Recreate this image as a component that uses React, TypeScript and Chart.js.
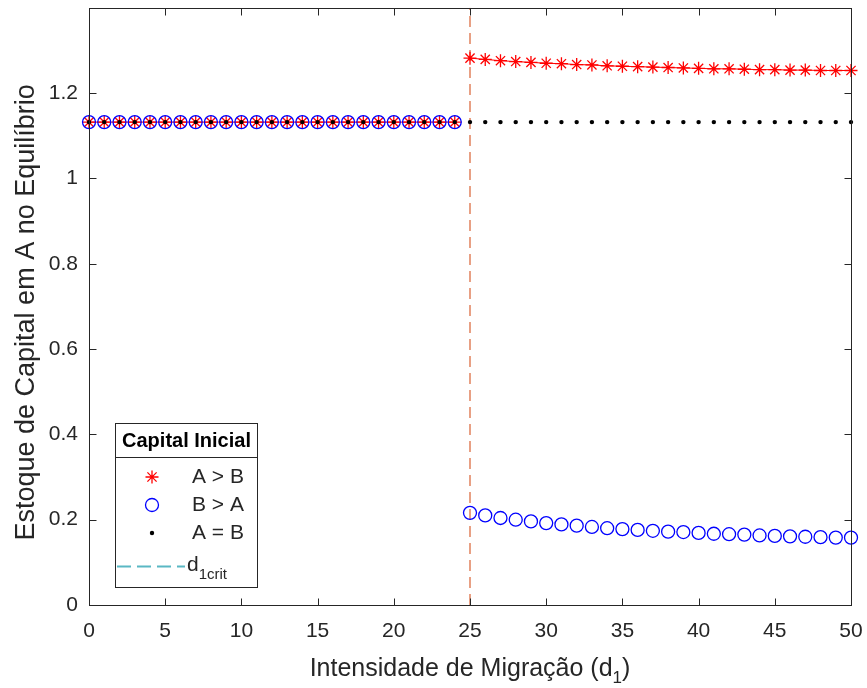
import React, { useEffect, useRef } from 'react';
import { Chart, registerables } from 'chart.js';

Chart.register(...registerables);

// ---------- data ----------
const d1 = [
  0, 1, 2, 3, 4, 5, 6, 7, 8, 9, 10, 11, 12, 13, 14, 15, 16, 17, 18, 19, 20, 21, 22, 23, 24,
  25, 26, 27, 28, 29, 30, 31, 32, 33, 34, 35, 36, 37, 38, 39, 40, 41, 42, 43, 44, 45, 46, 47, 48, 49, 50,
];

// Capital Inicial: A > B
const capitalAmaiorB = [
  1.132, 1.132, 1.132, 1.132, 1.132, 1.132, 1.132, 1.132, 1.132, 1.132, 1.132, 1.132, 1.132,
  1.132, 1.132, 1.132, 1.132, 1.132, 1.132, 1.132, 1.132, 1.132, 1.132, 1.132, 1.132,
  1.282, 1.279, 1.276, 1.274, 1.272, 1.270, 1.269, 1.267, 1.266, 1.264, 1.263, 1.262, 1.261,
  1.260, 1.259, 1.258, 1.257, 1.257, 1.256, 1.255, 1.255, 1.254, 1.254, 1.253, 1.253, 1.253,
];

// Capital Inicial: B > A
const capitalBmaiorA = [
  1.132, 1.132, 1.132, 1.132, 1.132, 1.132, 1.132, 1.132, 1.132, 1.132, 1.132, 1.132, 1.132,
  1.132, 1.132, 1.132, 1.132, 1.132, 1.132, 1.132, 1.132, 1.132, 1.132, 1.132, 1.132,
  0.216, 0.210, 0.204, 0.200, 0.196, 0.192, 0.189, 0.186, 0.183, 0.180, 0.178, 0.176, 0.174,
  0.172, 0.171, 0.169, 0.167, 0.166, 0.165, 0.163, 0.162, 0.161, 0.160, 0.159, 0.158, 0.158,
];

// Capital Inicial: A = B
const capitalAigualB = [
  1.132, 1.132, 1.132, 1.132, 1.132, 1.132, 1.132, 1.132, 1.132, 1.132, 1.132, 1.132, 1.132,
  1.132, 1.132, 1.132, 1.132, 1.132, 1.132, 1.132, 1.132, 1.132, 1.132, 1.132, 1.132,
  1.132, 1.132, 1.132, 1.132, 1.132, 1.132, 1.132, 1.132, 1.132, 1.132, 1.132, 1.132, 1.132,
  1.132, 1.132, 1.132, 1.132, 1.132, 1.132, 1.132, 1.132, 1.132, 1.132, 1.132, 1.132, 1.132,
];

const d1Crit = 25;

const xTicks = [0, 5, 10, 15, 20, 25, 30, 35, 40, 45, 50];
const xTickLabels = ['0', '5', '10', '15', '20', '25', '30', '35', '40', '45', '50'];
const yTicks = [0, 0.2, 0.4, 0.6, 0.8, 1, 1.2];
const yTickLabels = ['0', '0.2', '0.4', '0.6', '0.8', '1', '1.2'];
const xMin = 0;
const xMax = 50;
const yMin = 0;
const yMax = 1.4;

const xTitleMain = 'Intensidade de Migração (d';
const xTitleSub = '1';
const xTitleEnd = ')';
const yTitle = 'Estoque de Capital em A no Equilíbrio';
const legendTitle = 'Capital Inicial';
const seriesLabels = ['A > B', 'B > A', 'A = B'];
const critLabelMain = 'd';
const critLabelSub = '1crit';

// ---------- styles ----------
const FONT = "'Liberation Sans', Arial, Helvetica, sans-serif";
const AXIS_COLOR = '#262626';
const RED = '#FF0000';
const BLUE = '#0000FF';
const BLACK = '#000000';
const CRIT_COLOR = '#E8A084';
const CRIT_LEGEND_COLOR = '#5AB8C4';
const TICK_LEN = 7;

function drawStar(ctx: CanvasRenderingContext2D, x: number, y: number, r: number, color: string) {
  ctx.save();
  ctx.strokeStyle = color;
  ctx.lineWidth = 1.3;
  ctx.beginPath();
  for (let k = 0; k < 4; k++) {
    const a = (k * Math.PI) / 4;
    ctx.moveTo(x - r * Math.cos(a), y - r * Math.sin(a));
    ctx.lineTo(x + r * Math.cos(a), y + r * Math.sin(a));
  }
  ctx.stroke();
  ctx.restore();
}

const matlabPlugin = {
  id: 'matlabFrame',
  beforeDraw(chart: any) {
    const { ctx, width, height } = chart;
    ctx.save();
    ctx.fillStyle = '#ffffff';
    ctx.fillRect(0, 0, width, height);
    ctx.restore();
  },
  afterDraw(chart: any) {
    const { ctx, chartArea: a } = chart;
    const xs = chart.scales.x;
    const ys = chart.scales.y;
    ctx.save();

    // frame
    ctx.strokeStyle = AXIS_COLOR;
    ctx.lineWidth = 1;
    const L = Math.round(a.left) + 0.5;
    const R = Math.round(a.right) + 0.5;
    const T = Math.round(a.top) + 0.5;
    const B = Math.round(a.bottom) + 0.5;
    ctx.strokeRect(L, T, R - L, B - T);

    // inward ticks on all four sides
    ctx.beginPath();
    for (const v of xTicks) {
      const px = Math.round(xs.getPixelForValue(v)) + 0.5;
      ctx.moveTo(px, B);
      ctx.lineTo(px, B - TICK_LEN);
      ctx.moveTo(px, T);
      ctx.lineTo(px, T + TICK_LEN);
    }
    for (const v of yTicks) {
      const py = Math.round(ys.getPixelForValue(v)) + 0.5;
      ctx.moveTo(L, py);
      ctx.lineTo(L + TICK_LEN, py);
      ctx.moveTo(R, py);
      ctx.lineTo(R - TICK_LEN, py);
    }
    ctx.stroke();

    // x title with subscript
    ctx.fillStyle = AXIS_COLOR;
    ctx.textBaseline = 'alphabetic';
    ctx.textAlign = 'left';
    const titleFont = `25px ${FONT}`;
    const subFont = `17px ${FONT}`;
    ctx.font = titleFont;
    const wMain = ctx.measureText(xTitleMain).width;
    const wEnd = ctx.measureText(xTitleEnd).width;
    ctx.font = subFont;
    const wSub = ctx.measureText(xTitleSub).width;
    const total = wMain + wSub + wEnd;
    const cx = (a.left + a.right) / 2;
    let tx = cx - total / 2;
    const ty = 676;
    ctx.font = titleFont;
    ctx.fillText(xTitleMain, tx, ty);
    tx += wMain;
    ctx.font = subFont;
    ctx.fillText(xTitleSub, tx, ty + 7);
    tx += wSub;
    ctx.font = titleFont;
    ctx.fillText(xTitleEnd, tx, ty);

    // y title
    ctx.save();
    ctx.translate(27, (a.top + a.bottom) / 2 + 6);
    ctx.rotate(-Math.PI / 2);
    ctx.textAlign = 'center';
    ctx.textBaseline = 'middle';
    ctx.font = `27px ${FONT}`;
    ctx.fillText(yTitle, 0, 0);
    ctx.restore();

    // legend
    const lx0 = 115.5;
    const ly0 = 423.5;
    const lx1 = 257.5;
    const ly1 = 587.5;
    const sepY = 457.5;
    ctx.fillStyle = '#ffffff';
    ctx.fillRect(lx0, ly0, lx1 - lx0, ly1 - ly0);
    ctx.strokeStyle = AXIS_COLOR;
    ctx.lineWidth = 1;
    ctx.strokeRect(lx0, ly0, lx1 - lx0, ly1 - ly0);
    ctx.beginPath();
    ctx.moveTo(lx0, sepY);
    ctx.lineTo(lx1, sepY);
    ctx.stroke();

    ctx.fillStyle = '#000000';
    ctx.font = `bold 20px ${FONT}`;
    ctx.textAlign = 'center';
    ctx.textBaseline = 'middle';
    ctx.fillText(legendTitle, (lx0 + lx1) / 2, 441);

    const mx = 152;
    const textX = 192;
    const rows = [477, 505, 533];
    ctx.font = `21px ${FONT}`;
    ctx.textAlign = 'left';
    ctx.fillStyle = AXIS_COLOR;
    rows.forEach((ry, i) => ctx.fillText(seriesLabels[i], textX, ry));

    drawStar(ctx, mx, rows[0], 6.5, RED);
    ctx.strokeStyle = BLUE;
    ctx.lineWidth = 1.3;
    ctx.beginPath();
    ctx.arc(mx, rows[1], 6.5, 0, Math.PI * 2);
    ctx.stroke();
    ctx.fillStyle = BLACK;
    ctx.beginPath();
    ctx.arc(mx, rows[2], 2.2, 0, Math.PI * 2);
    ctx.fill();

    // crit legend line
    ctx.strokeStyle = CRIT_LEGEND_COLOR;
    ctx.lineWidth = 2;
    ctx.setLineDash([14, 6]);
    ctx.beginPath();
    ctx.moveTo(117, 566.5);
    ctx.lineTo(185, 566.5);
    ctx.stroke();
    ctx.setLineDash([]);
    ctx.fillStyle = AXIS_COLOR;
    ctx.font = `21px ${FONT}`;
    ctx.textBaseline = 'alphabetic';
    ctx.fillText(critLabelMain, 187, 571);
    const wd = ctx.measureText(critLabelMain).width;
    ctx.font = `15px ${FONT}`;
    ctx.fillText(critLabelSub, 187 + wd, 579);

    ctx.restore();
  },
};

export default function App() {
  const ref = useRef<HTMLCanvasElement | null>(null);

  useEffect(() => {
    const canvas = ref.current;
    if (!canvas) return;
    const pts = (ys: number[]) => d1.map((x, i) => ({ x, y: ys[i] }));

    const chart = new Chart(canvas, {
      type: 'scatter',
      data: {
        datasets: [
          {
            label: seriesLabels[2],
            data: pts(capitalAigualB),
            showLine: false,
            pointStyle: 'circle',
            pointRadius: 2.2,
            pointBackgroundColor: BLACK,
            pointBorderColor: BLACK,
            pointBorderWidth: 0,
            clip: false,
            order: 0,
          },
          {
            label: seriesLabels[1],
            data: pts(capitalBmaiorA),
            showLine: false,
            pointStyle: 'circle',
            pointRadius: 6.5,
            pointBackgroundColor: 'rgba(0,0,0,0)',
            pointBorderColor: BLUE,
            pointBorderWidth: 1.3,
            clip: false,
            order: 1,
          },
          {
            label: seriesLabels[0],
            data: pts(capitalAmaiorB),
            showLine: true,
            borderColor: RED,
            borderWidth: 1,
            pointStyle: 'star',
            pointRadius: 6.5,
            pointBorderColor: RED,
            pointBackgroundColor: RED,
            pointBorderWidth: 1.3,
            clip: false,
            order: 2,
            segment: {
              borderColor: (c: any) =>
                c.p0.parsed.x < d1Crit && c.p1.parsed.x >= d1Crit ? 'rgba(0,0,0,0)' : undefined,
            },
          },
          {
            label: 'd1crit',
            data: [
              { x: d1Crit, y: yMin },
              { x: d1Crit, y: yMax },
            ],
            showLine: true,
            borderColor: CRIT_COLOR,
            borderWidth: 2,
            borderDash: [11, 6],
            pointRadius: 0,
            order: 3,
          },
        ],
      } as any,
      options: {
        responsive: false,
        animation: false,
        devicePixelRatio: 1,
        layout: { padding: { left: 0, right: 16, top: 7, bottom: 0 } },
        plugins: {
          legend: { display: false },
          tooltip: { enabled: false },
          title: { display: false },
        },
        scales: {
          x: {
            type: 'linear',
            min: xMin,
            max: xMax,
            grid: { display: false, drawTicks: false },
            border: { display: false },
            afterBuildTicks: (s: any) => {
              s.ticks = xTicks.map((v) => ({ value: v }));
            },
            afterFit: (s: any) => {
              s.height = 83;
              s.paddingLeft = 0;
              s.paddingRight = 0;
            },
            ticks: {
              autoSkip: false,
              maxRotation: 0,
              minRotation: 0,
              padding: 14,
              color: AXIS_COLOR,
              font: { family: FONT, size: 21 },
              callback: (_v: any, i: number) => xTickLabels[i],
            },
          },
          y: {
            type: 'linear',
            min: yMin,
            max: yMax,
            grid: { display: false, drawTicks: false },
            border: { display: false },
            afterBuildTicks: (s: any) => {
              s.ticks = yTicks.map((v) => ({ value: v }));
            },
            afterFit: (s: any) => {
              s.width = 89;
              s.paddingTop = 0;
              s.paddingBottom = 0;
            },
            ticks: {
              autoSkip: false,
              padding: 11,
              color: AXIS_COLOR,
              font: { family: FONT, size: 21 },
              callback: (_v: any, i: number) => yTickLabels[i],
            },
          },
        },
      } as any,
      plugins: [matlabPlugin],
    });

    return () => chart.destroy();
  }, []);

  return (
    <div style={{ position: 'absolute', left: 0, top: 0, width: 867, height: 688, background: '#ffffff' }}>
      <canvas ref={ref} width={867} height={688} style={{ display: 'block' }} />
    </div>
  );
}
